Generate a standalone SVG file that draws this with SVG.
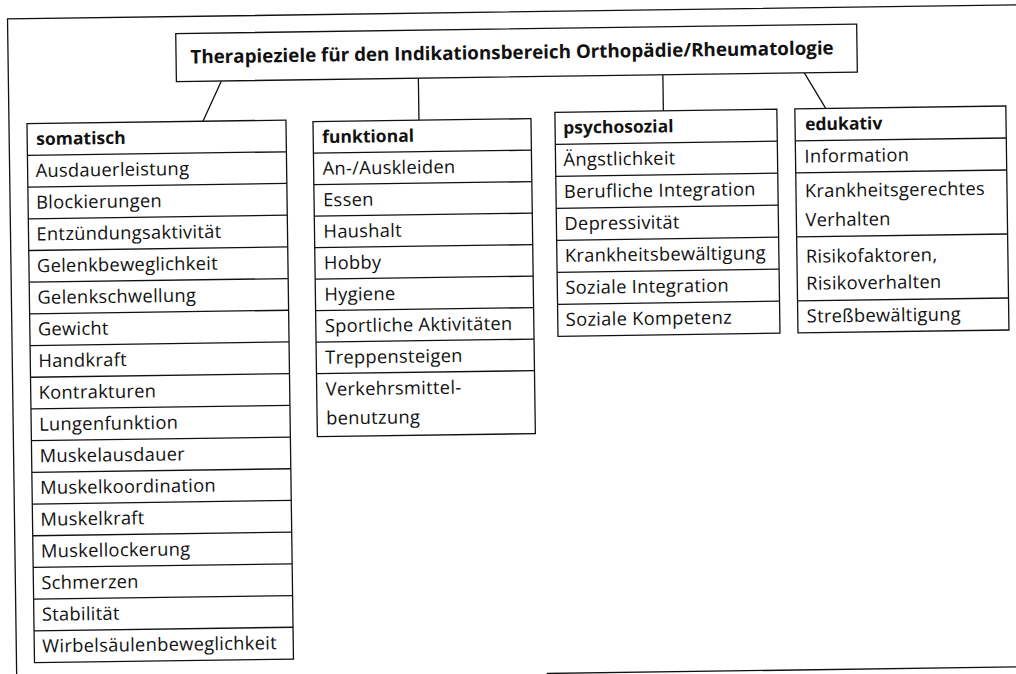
<svg xmlns="http://www.w3.org/2000/svg" width="1016" height="674" viewBox="0 0 1016 674">
<style>
.b{fill:#fff;stroke:#111;stroke-width:1.3}
.l{stroke:#111;stroke-width:1.3;fill:none}
.t{font-family:"Open Sans","Liberation Sans",sans-serif;font-size:18.3px;letter-spacing:0.3px;fill:#111}
.h{font-family:"Open Sans","Liberation Sans",sans-serif;font-size:17.5px;font-weight:bold;fill:#111}
.ti{font-family:"Open Sans","Liberation Sans",sans-serif;font-size:18.8px;font-weight:bold;fill:#111}
</style>
<rect width="1016" height="674" fill="#fff"/>
<g transform="rotate(-0.8 508 337)">
<g id="frame">
<path class="l" d="M12 700 V12 H1040"/>
<path class="l" d="M542 674 H1040"/>
</g>
<g id="connectors">
<line class="l" x1="225" y1="77" x2="206" y2="117"/>
<line class="l" x1="422" y1="77" x2="422" y2="119"/>
<line class="l" x1="666.5" y1="77" x2="666.5" y2="113"/>
<line class="l" x1="808" y1="77" x2="829" y2="113"/>
</g>
<g id="title">
<rect class="b" x="180" y="29" width="681" height="48"/>
<text class="ti" x="516" y="59" text-anchor="middle">Therapieziele für den Indikationsbereich Orthopädie/Rheumatologie</text>
</g>
<g id="somatisch">
<rect class="b" x="30" y="117" width="259" height="539"/>
<path class="l" d="M30 148.7H289M30 180.4H289M30 212.1H289M30 243.8H289M30 275.5H289M30 307.2H289M30 338.9H289M30 370.6H289M30 402.3H289M30 434H289M30 465.7H289M30 497.4H289M30 529.1H289M30 560.8H289M30 592.5H289M30 624.2H289"/>
<text class="h" x="39" y="138.5">somatisch</text>
<text class="t" x="38" y="170.5">Ausdauerleistung</text>
<text class="t" x="38" y="202.2">Blockierungen</text>
<text class="t" x="38" y="233.9">Entzündungsaktivität</text>
<text class="t" x="38" y="265.6">Gelenkbeweglichkeit</text>
<text class="t" x="38" y="297.3">Gelenkschwellung</text>
<text class="t" x="38" y="329">Gewicht</text>
<text class="t" x="38" y="360.7">Handkraft</text>
<text class="t" x="38" y="392.4">Kontrakturen</text>
<text class="t" x="38" y="424.1">Lungenfunktion</text>
<text class="t" x="38" y="455.8">Muskelausdauer</text>
<text class="t" x="38" y="487.5">Muskelkoordination</text>
<text class="t" x="38" y="519.2">Muskelkraft</text>
<text class="t" x="38" y="550.9">Muskellockerung</text>
<text class="t" x="38" y="582.6">Schmerzen</text>
<text class="t" x="38" y="614.3">Stabilität</text>
<text class="t" x="38" y="646">Wirbelsäulenbeweglichkeit</text>
</g>
<g id="funktional">
<rect class="b" x="316" y="119" width="218" height="315"/>
<path class="l" d="M316 150.5H534M316 182H534M316 213.5H534M316 245H534M316 276.5H534M316 308H534M316 339.5H534M316 371H534"/>
<text class="h" x="325" y="140.5">funktional</text>
<text class="t" x="325" y="172.3">An-/Auskleiden</text>
<text class="t" x="325" y="203.8">Essen</text>
<text class="t" x="325" y="235.3">Haushalt</text>
<text class="t" x="325" y="266.8">Hobby</text>
<text class="t" x="325" y="298.3">Hygiene</text>
<text class="t" x="325" y="329.8">Sportliche Aktivitäten</text>
<text class="t" x="325" y="361.3">Treppensteigen</text>
<text class="t" x="325" y="393">Verkehrsmittel-</text>
<text class="t" x="325" y="422">benutzung</text>
</g>
<g id="psychosozial">
<rect class="b" x="558" y="113" width="222" height="224"/>
<path class="l" d="M558 145H780M558 177H780M558 209H780M558 241H780M558 273H780M558 305H780"/>
<text class="h" x="566" y="134.5">psychosozial</text>
<text class="t" x="566" y="166.8">Ängstlichkeit</text>
<text class="t" x="566" y="198.8">Berufliche Integration</text>
<text class="t" x="566" y="230.8">Depressivität</text>
<text class="t" x="566" y="262.8">Krankheitsbewältigung</text>
<text class="t" x="566" y="294.8">Soziale Integration</text>
<text class="t" x="566" y="326.8">Soziale Kompetenz</text>
</g>
<g id="edukativ">
<rect class="b" x="798" y="113" width="211" height="224"/>
<path class="l" d="M798 145H1009M798 177H1009M798 241H1009M798 305H1009"/>
<text class="h" x="808" y="134.5">edukativ</text>
<text class="t" x="807" y="166.8">Information</text>
<text class="t" x="807" y="201.5">Krankheitsgerechtes</text>
<text class="t" x="807" y="230.5">Verhalten</text>
<text class="t" x="807" y="267">Risikofaktoren,</text>
<text class="t" x="807" y="294">Risikoverhalten</text>
<text class="t" x="807" y="326.8">Streßbewältigung</text>
</g>
</g>
</svg>
